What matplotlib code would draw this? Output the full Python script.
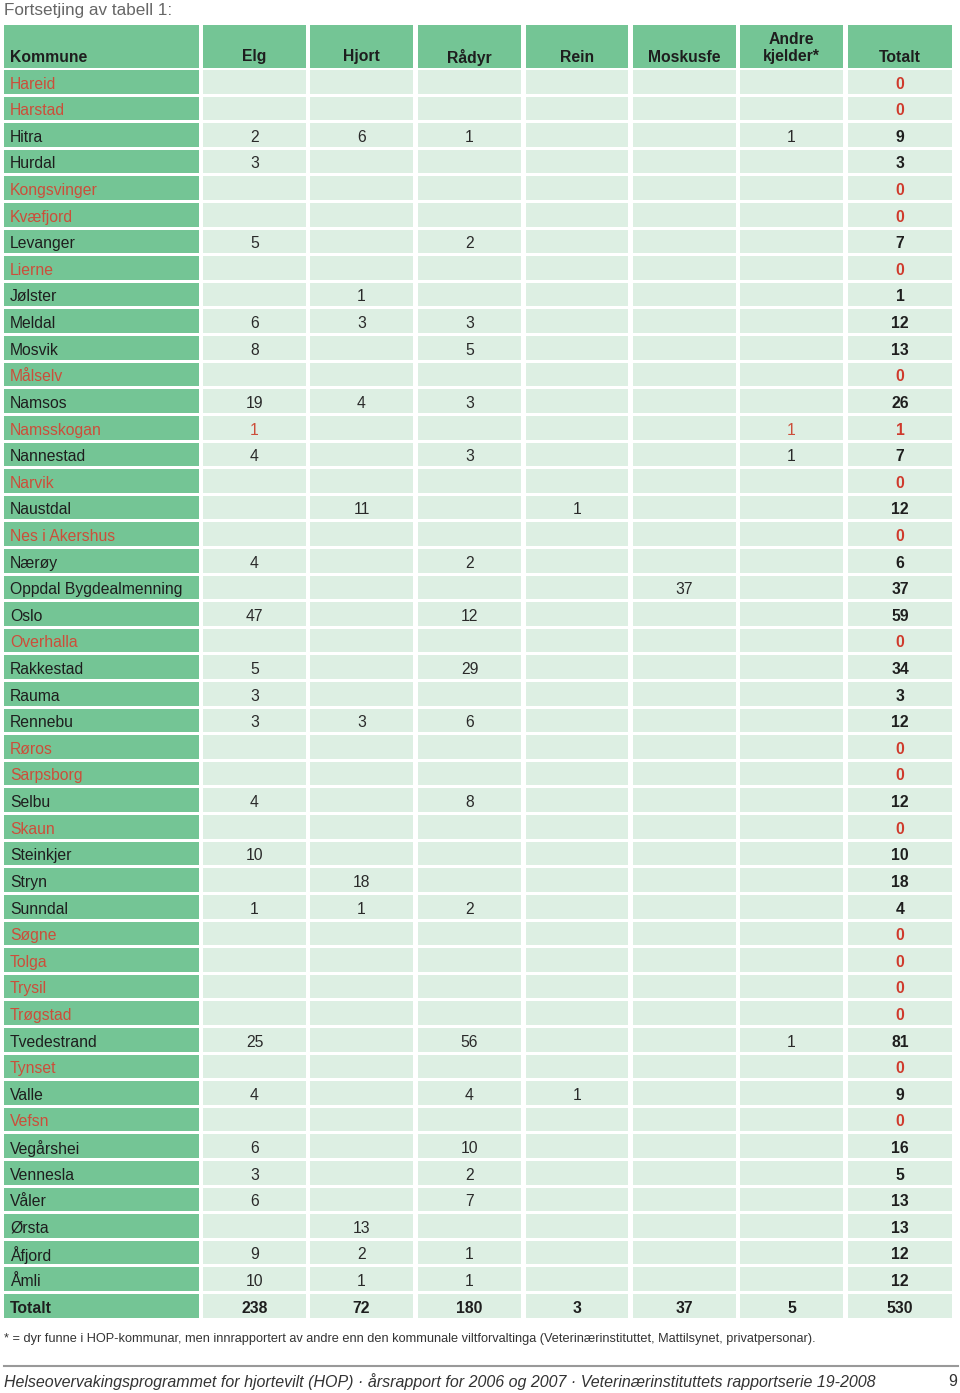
import matplotlib
matplotlib.use("Agg")
import matplotlib.pyplot as plt
from matplotlib.patches import Rectangle

plt.rcParams['font.family'] = ['Liberation Sans', 'DejaVu Sans']

title = "Fortsetjing av tabell 1:"
columns = ["Kommune", "Elg", "Hjort", "Rådyr", "Rein", "Moskusfe", "Andre\nkjelder*", "Totalt"]

kommuner = ["Hareid", "Harstad", "Hitra", "Hurdal", "Kongsvinger", "Kvæfjord", "Levanger", "Lierne",
            "Jølster", "Meldal", "Mosvik", "Målselv", "Namsos", "Namsskogan", "Nannestad", "Narvik",
            "Naustdal", "Nes i Akershus", "Nærøy", "Oppdal Bygdealmenning", "Oslo", "Overhalla",
            "Rakkestad", "Rauma", "Rennebu", "Røros", "Sarpsborg", "Selbu", "Skaun", "Steinkjer",
            "Stryn", "Sunndal", "Søgne", "Tolga", "Trysil", "Trøgstad", "Tvedestrand", "Tynset",
            "Valle", "Vefsn", "Vegårshei", "Vennesla", "Våler", "Ørsta", "Åfjord", "Åmli"]

N = None
elg     = [N, N, 2, 3, N, N, 5, N, N, 6, 8, N, 19, 1, 4, N, N, N, 4, N, 47, N, 5, 3, 3, N, N, 4, N, 10,
           N, 1, N, N, N, N, 25, N, 4, N, 6, 3, 6, N, 9, 10]
hjort   = [N, N, 6, N, N, N, N, N, 1, 3, N, N, 4, N, N, N, 11, N, N, N, N, N, N, N, 3, N, N, N, N, N,
           18, 1, N, N, N, N, N, N, N, N, N, N, N, 13, 2, 1]
radyr   = [N, N, 1, N, N, N, 2, N, N, 3, 5, N, 3, N, 3, N, N, N, 2, N, 12, N, 29, N, 6, N, N, 8, N, N,
           N, 2, N, N, N, N, 56, N, 4, N, 10, 2, 7, N, 1, 1]
rein    = [N, N, N, N, N, N, N, N, N, N, N, N, N, N, N, N, 1, N, N, N, N, N, N, N, N, N, N, N, N, N,
           N, N, N, N, N, N, N, N, 1, N, N, N, N, N, N, N]
moskus  = [N, N, N, N, N, N, N, N, N, N, N, N, N, N, N, N, N, N, N, 37, N, N, N, N, N, N, N, N, N, N,
           N, N, N, N, N, N, N, N, N, N, N, N, N, N, N, N]
andre   = [N, N, 1, N, N, N, N, N, N, N, N, N, N, 1, 1, N, N, N, N, N, N, N, N, N, N, N, N, N, N, N,
           N, N, N, N, N, N, 1, N, N, N, N, N, N, N, N, N]
totalt  = [0, 0, 9, 3, 0, 0, 7, 0, 1, 12, 13, 0, 26, 1, 7, 0, 12, 0, 6, 37, 59, 0, 34, 3, 12, 0, 0, 12,
           0, 10, 18, 4, 0, 0, 0, 0, 81, 0, 9, 0, 16, 5, 13, 13, 12, 12]
red_rows = ["Hareid", "Harstad", "Kongsvinger", "Kvæfjord", "Lierne", "Målselv", "Namsskogan", "Narvik",
            "Nes i Akershus", "Overhalla", "Røros", "Sarpsborg", "Skaun", "Søgne", "Tolga", "Trysil",
            "Trøgstad", "Tynset", "Vefsn"]
sum_label = "Totalt"
sum_values = [238, 72, 180, 3, 37, 5, 530]

footnote = ("* = dyr funne i HOP-kommunar, men innrapportert av andre enn den kommunale viltforvaltinga "
            "(Veterinærinstituttet, Mattilsynet, privatpersonar).")
footer = ("Helseovervakingsprogrammet for hjortevilt (HOP) · årsrapport for 2006 og 2007 · "
          "Veterinærinstituttets rapportserie 19-2008")
page = "9"

GREEN = "#74c595"
LIGHT = "#ddefe3"
RED = "#cf3a2c"
RED_NAME = "#cc4e3a"
BLACK = "#1e1e1e"

W, H = 960, 1393
fig = plt.figure(figsize=(W / 100, H / 100), dpi=100)
ax = fig.add_axes([0, 0, 1, 1])
ax.set_xlim(0, W)
ax.set_ylim(H, 0)
ax.axis("off")

col_left = [4, 203, 310, 418, 526, 633, 740, 848]
col_right = [199, 306, 413, 521, 628, 736, 843, 952]

FS = 11.3

ax.text(4, 10, title, fontsize=12.3, color="#666666", va="center", ha="left")

# header
hdr_top, hdr_bot = 25, 67.5
for j, c in enumerate(columns):
    ax.add_patch(Rectangle((col_left[j], hdr_top), col_right[j] - col_left[j], hdr_bot - hdr_top,
                           facecolor=GREEN, edgecolor="none"))
    if j == 0:
        ax.text(col_left[j] + 6, 57, c, fontsize=FS, fontweight="bold", color=BLACK, ha="left", va="center")
    else:
        lines = c.split("\n")
        for k, ln in enumerate(reversed(lines)):
            ax.text((col_left[j] + col_right[j]) / 2, 57 - 18 * k, ln, fontsize=FS, fontweight="bold",
                    color=BLACK, ha="center", va="center")

row_top0 = 70.0
pitch = 26.61
gap = 3.0

value_cols = [elg, hjort, radyr, rein, moskus, andre, totalt]


def draw_row(i, name, vals, name_color, val_color, bold_all=False, total_color=None):
    top = row_top0 + i * pitch
    h = pitch - gap
    cy = top + h / 2 + 2.3
    for j in range(8):
        ax.add_patch(Rectangle((col_left[j], top), col_right[j] - col_left[j], h,
                               facecolor=GREEN if j == 0 else LIGHT, edgecolor="none"))
    ax.text(col_left[0] + 6, cy, name, fontsize=FS, color=name_color, ha="left", va="center",
            fontweight="bold" if bold_all else "normal")
    for j, v in enumerate(vals):
        if v is None:
            continue
        is_total = (j == len(vals) - 1)
        ax.text((col_left[j + 1] + col_right[j + 1]) / 2, cy, str(v), fontsize=FS,
                color=(total_color if (is_total and total_color) else val_color),
                ha="center", va="center",
                fontweight="bold" if (bold_all or is_total) else "normal")


for i, name in enumerate(kommuner):
    vals = [col[i] for col in value_cols]
    red = name in red_rows
    draw_row(i, name, vals,
             RED_NAME if red else BLACK,
             RED_NAME if red else "#2a2a2a",
             total_color=RED if red else BLACK)

draw_row(len(kommuner), sum_label, sum_values, BLACK, BLACK, bold_all=True)

ax.text(4, 1339, footnote, fontsize=9.15, color="#333333", ha="left", va="center")
ax.plot([4, 958], [1366, 1366], color="#999999", lw=1.5)
ax.text(4, 1382, footer, fontsize=11.5, style="italic", color="#333333", ha="left", va="center")
ax.text(957, 1382, page, fontsize=11.5, color="#333333", ha="right", va="center")

fig.savefig("out.png", dpi=100)
